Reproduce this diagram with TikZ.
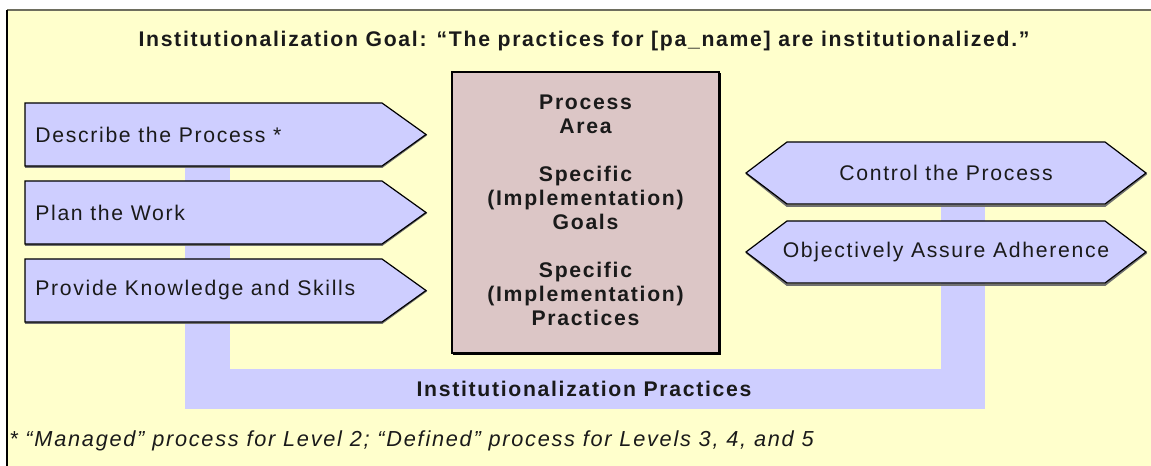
\documentclass[tikz,border=0pt]{standalone}
\usepackage{fontspec}
\setmainfont[LetterSpace=8]{Liberation Sans}
\definecolor{bg}{HTML}{FFFFCC}
\definecolor{shapeblue}{HTML}{CECEFF}
\definecolor{boxrose}{HTML}{DCC6C6}
\definecolor{frametop}{HTML}{6E6E5E}
\definecolor{ink}{HTML}{1A1A1A}
\definecolor{shade}{HTML}{707070}
\tikzset{
  bar/.style={fill=shapeblue},
  shapefill/.style={fill=shapeblue, draw=black, line width=0.9pt, line join=miter},
  shadowline/.style={draw=shade, line width=1.6pt},
  bodytext/.style={text=ink, inner sep=0pt, font=\fontsize{15.9}{18}\selectfont},
  boldtext/.style={text=ink, inner sep=0pt, font=\fontsize{15.9}{18}\selectfont\bfseries},
}
\begin{document}
\begin{tikzpicture}[x=0.75pt,y=-0.75pt]
\useasboundingbox (0,0) rectangle (1151,466);
\clip (0,0) rectangle (1151,466);
% frame
\fill[bg] (7,10) rectangle (1200,500);
\draw[frametop, line width=1.5pt] (7,10) -- (1200,10);
\draw[black, line width=1.2pt] (7,10) -- (7,500);
% title
\node[boldtext] (title) at (584,41) {Institutionalization Goal: “The practices for [pa\_name] are institutionalized.”};
% named anchor coordinates for the bars
\coordinate (lbarTop) at (185,160);
\coordinate (hbarLeft) at (185,369);
\coordinate (hbarRight) at (985,409);
\coordinate (rbarTop) at (941,200);
% institutionalization practice bars (connectors)
\fill[bar] (lbarTop) rectangle (230,409);
\fill[bar] (hbarLeft) rectangle (hbarRight);
\fill[bar] (rbarTop) rectangle (hbarRight);
% left arrows
\foreach \t/\nm/\txt in {103/describe/{Describe the Process *}, 181/plan/{Plan the Work}, 259/provide/{Provide Knowledge and Skills}}{
  \draw[shadowline] (25,\t+63.8) -- (382,\t+63.8) -- (426.5,\t+31.5);
  \path[shapefill] (25,\t) -- (382,\t) -- (426,\t+31.5) -- (382,\t+63) -- (25,\t+63) -- cycle;
  \node[bodytext, anchor=west] (\nm) at (35,\t+31.5) {\txt};
}
% central box
\draw[shade, line width=1.6pt] (453,354) -- (720,354) -- (720,73);
\filldraw[fill=boxrose, draw=black, line width=0.9pt] (452,72) rectangle (719,353);
\node[boldtext, align=center] (pa) at (585.5,210) {Process\\Area\\[18pt]Specific\\(Implementation)\\Goals\\[18pt]Specific\\(Implementation)\\Practices};
% right hexagons
\foreach \t/\nm/\txt in {142/control/{Control the Process}, 221/assure/{Objectively Assure Adherence}}{
  \draw[shadowline] (746.5,\t+31.5) -- (787,\t+63.8) -- (1105,\t+63.8) -- (1146.5,\t+31.5);
  \path[shapefill] (746,\t+31) -- (787,\t) -- (1105,\t) -- (1146,\t+31) -- (1105,\t+62) -- (787,\t+62) -- cycle;
  \node[bodytext] (\nm) at (946,\t+31) {\txt};
}
% bar label
\node[boldtext] (inst) at (584,389) {Institutionalization Practices};
% footnote
\node[bodytext, anchor=west, font=\fontsize{16.3}{18}\selectfont\itshape] (foot) at (9,441) {* “Managed” process for Level 2; “Defined” process for Levels 3, 4, and 5};
\end{tikzpicture}
\end{document}
